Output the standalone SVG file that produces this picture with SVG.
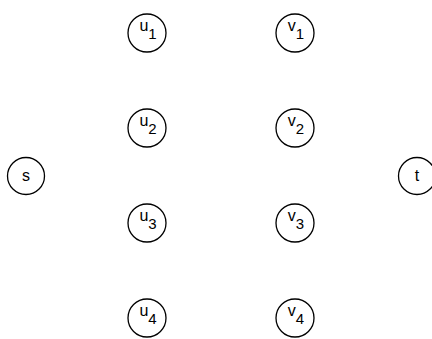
<svg xmlns="http://www.w3.org/2000/svg" width="432" height="339" viewBox="0 0 432 339">
<style>
.n{fill:none;stroke:#000;stroke-width:1.3}
.t{font-family:"Liberation Sans",Arial,sans-serif;font-size:16px;fill:#000;text-anchor:middle}
.s{font-size:15px}
</style>
<rect width="432" height="339" fill="#fff"/>
<g id="connectors"></g>
<g id="s"><circle class="n" cx="26" cy="176" r="18.5"/><text class="t" x="26" y="181">s</text></g>
<g id="t"><circle class="n" cx="417" cy="176" r="18.5"/><text class="t" x="417" y="181">t</text></g>
<g id="u1"><circle class="n" cx="147" cy="33" r="19"/><text class="t" x="148" y="31">u<tspan class="s" dy="8">1</tspan></text></g>
<g id="u2"><circle class="n" cx="147" cy="128" r="19"/><text class="t" x="148" y="126">u<tspan class="s" dy="8">2</tspan></text></g>
<g id="u3"><circle class="n" cx="147" cy="223" r="19"/><text class="t" x="148" y="221">u<tspan class="s" dy="8">3</tspan></text></g>
<g id="u4"><circle class="n" cx="147" cy="318" r="19"/><text class="t" x="148" y="316">u<tspan class="s" dy="8">4</tspan></text></g>
<g id="v1"><circle class="n" cx="295" cy="33" r="19"/><text class="t" x="296" y="31">v<tspan class="s" dy="8">1</tspan></text></g>
<g id="v2"><circle class="n" cx="295" cy="128" r="19"/><text class="t" x="296" y="126">v<tspan class="s" dy="8">2</tspan></text></g>
<g id="v3"><circle class="n" cx="295" cy="223" r="19"/><text class="t" x="296" y="221">v<tspan class="s" dy="8">3</tspan></text></g>
<g id="v4"><circle class="n" cx="295" cy="318" r="19"/><text class="t" x="296" y="316">v<tspan class="s" dy="8">4</tspan></text></g>
</svg>
